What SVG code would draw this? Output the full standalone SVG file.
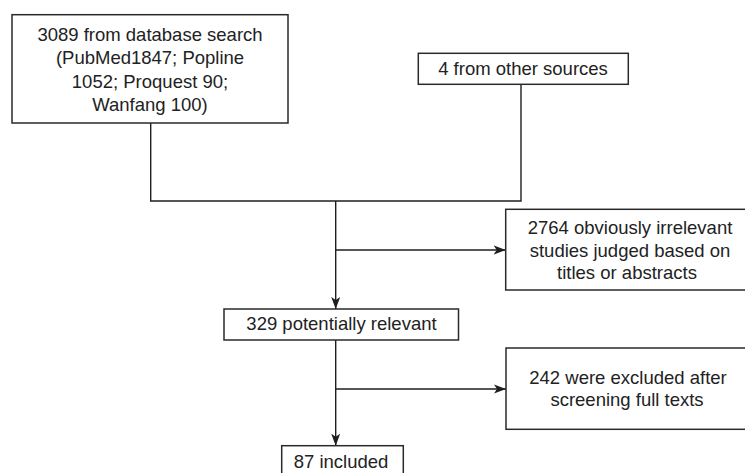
<svg xmlns="http://www.w3.org/2000/svg" width="745" height="473" viewBox="0 0 745 473">
  <style>
    .box { fill: #ffffff; stroke: #2a2a2a; stroke-width: 1.5; }
    .lbl { font-family: "Liberation Sans", Arial, sans-serif; font-size: 18.5px; fill: #222222; text-anchor: middle; }
    .con { fill: none; stroke: #1e1e1e; stroke-width: 1.4; }
  </style>
  <defs>
    <marker id="arr" markerUnits="userSpaceOnUse" markerWidth="13" markerHeight="11" refX="12" refY="5" orient="auto">
      <path d="M0,0.5 L12,5 L0,9.5 L3,5 Z" fill="#1e1e1e"/>
    </marker>
  </defs>
  <rect width="745" height="473" fill="#ffffff"/>

  <g id="connectors">
    <path class="con" d="M150.7,123 V201 H521 V84.3"/>
    <path class="con" d="M335.7,201 V309" marker-end="url(#arr)"/>
    <path class="con" d="M335.7,250 H505.7" marker-end="url(#arr)"/>
    <path class="con" d="M335.7,340 V445.7" marker-end="url(#arr)"/>
    <path class="con" d="M335.7,389 H506" marker-end="url(#arr)"/>
  </g>

  <g id="node-database">
    <rect class="box" x="12" y="14.7" width="276" height="108.3"/>
    <text class="lbl" x="150" y="41">3089 from database search</text>
    <text class="lbl" x="150" y="64.4">(PubMed1847; Popline</text>
    <text class="lbl" x="150" y="87.8">1052; Proquest 90;</text>
    <text class="lbl" x="150" y="111.2">Wanfang 100)</text>
  </g>

  <g id="node-other">
    <rect class="box" x="418.3" y="53.3" width="210" height="31"/>
    <text class="lbl" x="523" y="75">4 from other sources</text>
  </g>

  <g id="node-irrelevant">
    <rect class="box" x="505.7" y="209.3" width="245" height="80.7"/>
    <text class="lbl" x="630" y="234.3">2764 obviously irrelevant</text>
    <text class="lbl" x="630" y="256.7">studies judged based on</text>
    <text class="lbl" x="627" y="279">titles or abstracts</text>
  </g>

  <g id="node-potential">
    <rect class="box" x="224" y="309" width="234.5" height="31"/>
    <text class="lbl" x="341.5" y="330">329 potentially relevant</text>
  </g>

  <g id="node-excluded">
    <rect class="box" x="506" y="348" width="245" height="81.3"/>
    <text class="lbl" x="628" y="384">242 were excluded after</text>
    <text class="lbl" x="627" y="406">screening full texts</text>
  </g>

  <g id="node-included">
    <rect class="box" x="281.7" y="445.7" width="121.6" height="35"/>
    <text class="lbl" x="341" y="467.7">87 included</text>
  </g>
</svg>
